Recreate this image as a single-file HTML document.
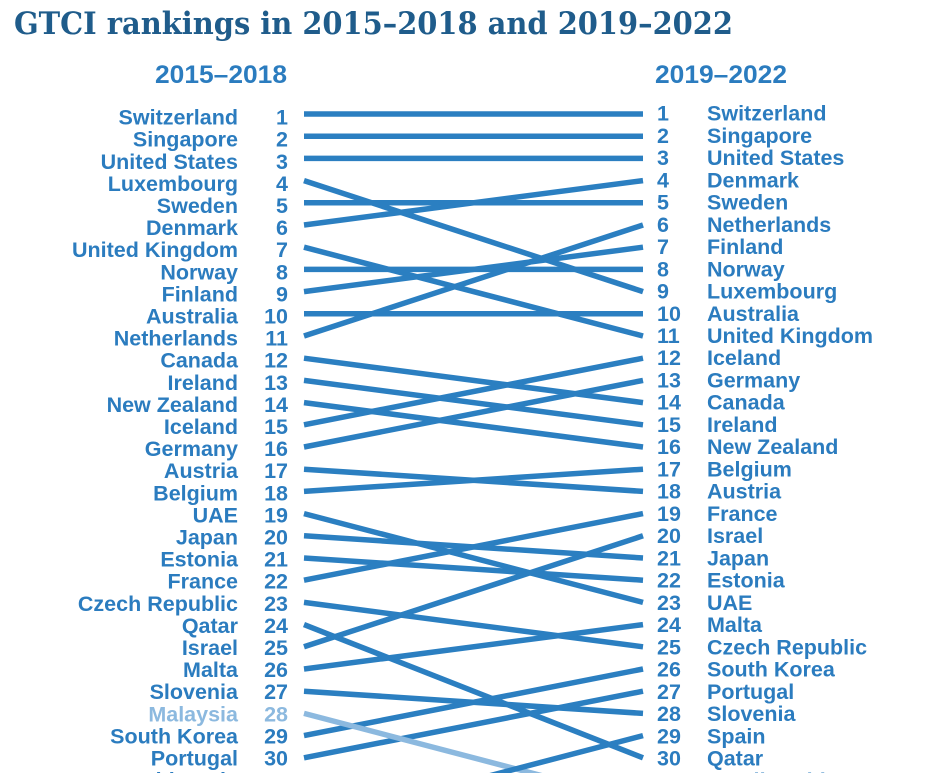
<!DOCTYPE html>
<html><head><meta charset="utf-8"><style>
html,body{margin:0;padding:0;background:#fff;width:933px;height:773px;overflow:hidden}
svg{display:block}
.t{font-family:"Liberation Sans",Arial,sans-serif;font-weight:bold;font-size:21.5px;fill:#2b7cbf}
.l{fill:#8cb9df}
.h{font-family:"Liberation Sans",Arial,sans-serif;font-weight:bold;font-size:25px;fill:#2b7cbf}
.ttl{font-family:"DejaVu Serif","Liberation Serif",serif;font-weight:bold;font-size:31px;fill:#1f5c8b}
</style></head><body>
<svg width="933" height="773" viewBox="0 0 933 773" xmlns="http://www.w3.org/2000/svg">
<text class="ttl" x="14" y="34" textLength="719" lengthAdjust="spacingAndGlyphs">GTCI rankings in 2015–2018 and 2019–2022</text>
<text class="h" x="287" y="83" text-anchor="end" textLength="132" lengthAdjust="spacingAndGlyphs">2015–2018</text>
<text class="h" x="655" y="83" textLength="132" lengthAdjust="spacingAndGlyphs">2019–2022</text>

<g stroke="#2b7fc1" stroke-width="5.5" fill="none">
<line x1="304" y1="114" x2="643" y2="114"/>
<line x1="304" y1="136.2" x2="643" y2="136.2"/>
<line x1="304" y1="158.4" x2="643" y2="158.4"/>
<line x1="304" y1="180.6" x2="643" y2="291.6"/>
<line x1="304" y1="202.8" x2="643" y2="202.8"/>
<line x1="304" y1="225" x2="643" y2="180.6"/>
<line x1="304" y1="247.2" x2="643" y2="336"/>
<line x1="304" y1="269.4" x2="643" y2="269.4"/>
<line x1="304" y1="291.6" x2="643" y2="247.2"/>
<line x1="304" y1="313.8" x2="643" y2="313.8"/>
<line x1="304" y1="336" x2="643" y2="225"/>
<line x1="304" y1="358.2" x2="643" y2="402.6"/>
<line x1="304" y1="380.4" x2="643" y2="424.8"/>
<line x1="304" y1="402.6" x2="643" y2="447"/>
<line x1="304" y1="424.8" x2="643" y2="358.2"/>
<line x1="304" y1="447" x2="643" y2="380.4"/>
<line x1="304" y1="469.2" x2="643" y2="491.4"/>
<line x1="304" y1="491.4" x2="643" y2="469.2"/>
<line x1="304" y1="513.6" x2="643" y2="602.4"/>
<line x1="304" y1="535.8" x2="643" y2="558"/>
<line x1="304" y1="558" x2="643" y2="580.2"/>
<line x1="304" y1="580.2" x2="643" y2="513.6"/>
<line x1="304" y1="602.4" x2="643" y2="646.8"/>
<line x1="304" y1="624.6" x2="643" y2="757.8"/>
<line x1="304" y1="646.8" x2="643" y2="535.8"/>
<line x1="304" y1="669" x2="643" y2="624.6"/>
<line x1="304" y1="691.2" x2="643" y2="713.4"/>
<line x1="304" y1="735.6" x2="643" y2="669"/>
<line x1="304" y1="757.8" x2="643" y2="691.2"/>
</g>
<line x1="304" y1="713.4" x2="643" y2="802.2" stroke="#8cb9df" stroke-width="5.5"/>
<line x1="304" y1="824.4" x2="643" y2="735.6" stroke="#2b7fc1" stroke-width="5.5"/>

<g class="t" text-anchor="end">
<text x="238" y="124.6">Switzerland</text><text x="288" y="124.6">1</text>
<text x="238" y="146.7">Singapore</text><text x="288" y="146.7">2</text>
<text x="238" y="168.8">United States</text><text x="288" y="168.8">3</text>
<text x="238" y="190.9">Luxembourg</text><text x="288" y="190.9">4</text>
<text x="238" y="213">Sweden</text><text x="288" y="213">5</text>
<text x="238" y="235.1">Denmark</text><text x="288" y="235.1">6</text>
<text x="238" y="257.2">United Kingdom</text><text x="288" y="257.2">7</text>
<text x="238" y="279.3">Norway</text><text x="288" y="279.3">8</text>
<text x="238" y="301.4">Finland</text><text x="288" y="301.4">9</text>
<text x="238" y="323.5">Australia</text><text x="288" y="323.5">10</text>
<text x="238" y="345.6">Netherlands</text><text x="288" y="345.6">11</text>
<text x="238" y="367.7">Canada</text><text x="288" y="367.7">12</text>
<text x="238" y="389.8">Ireland</text><text x="288" y="389.8">13</text>
<text x="238" y="411.9">New Zealand</text><text x="288" y="411.9">14</text>
<text x="238" y="434">Iceland</text><text x="288" y="434">15</text>
<text x="238" y="456.1">Germany</text><text x="288" y="456.1">16</text>
<text x="238" y="478.2">Austria</text><text x="288" y="478.2">17</text>
<text x="238" y="500.3">Belgium</text><text x="288" y="500.3">18</text>
<text x="238" y="522.4">UAE</text><text x="288" y="522.4">19</text>
<text x="238" y="544.5">Japan</text><text x="288" y="544.5">20</text>
<text x="238" y="566.6">Estonia</text><text x="288" y="566.6">21</text>
<text x="238" y="588.7">France</text><text x="288" y="588.7">22</text>
<text x="238" y="610.8">Czech Republic</text><text x="288" y="610.8">23</text>
<text x="238" y="632.9">Qatar</text><text x="288" y="632.9">24</text>
<text x="238" y="655">Israel</text><text x="288" y="655">25</text>
<text x="238" y="677.1">Malta</text><text x="288" y="677.1">26</text>
<text x="238" y="699.2">Slovenia</text><text x="288" y="699.2">27</text>
<text x="238" y="721.3" class="l">Malaysia</text><text x="288" y="721.3" class="l">28</text>
<text x="238" y="743.4">South Korea</text><text x="288" y="743.4">29</text>
<text x="238" y="765.5">Portugal</text><text x="288" y="765.5">30</text>
<text x="238" y="787.6">Lithuania</text><text x="288" y="787.6">31</text>
</g>

<g class="t">
<text x="657" y="120.6">1</text><text x="707" y="120.6">Switzerland</text>
<text x="657" y="142.84">2</text><text x="707" y="142.84">Singapore</text>
<text x="657" y="165.08">3</text><text x="707" y="165.08">United States</text>
<text x="657" y="187.32">4</text><text x="707" y="187.32">Denmark</text>
<text x="657" y="209.56">5</text><text x="707" y="209.56">Sweden</text>
<text x="657" y="231.8">6</text><text x="707" y="231.8">Netherlands</text>
<text x="657" y="254.04">7</text><text x="707" y="254.04">Finland</text>
<text x="657" y="276.28">8</text><text x="707" y="276.28">Norway</text>
<text x="657" y="298.52">9</text><text x="707" y="298.52">Luxembourg</text>
<text x="657" y="320.76">10</text><text x="707" y="320.76">Australia</text>
<text x="657" y="343">11</text><text x="707" y="343">United Kingdom</text>
<text x="657" y="365.24">12</text><text x="707" y="365.24">Iceland</text>
<text x="657" y="387.48">13</text><text x="707" y="387.48">Germany</text>
<text x="657" y="409.72">14</text><text x="707" y="409.72">Canada</text>
<text x="657" y="431.96">15</text><text x="707" y="431.96">Ireland</text>
<text x="657" y="454.2">16</text><text x="707" y="454.2">New Zealand</text>
<text x="657" y="476.44">17</text><text x="707" y="476.44">Belgium</text>
<text x="657" y="498.68">18</text><text x="707" y="498.68">Austria</text>
<text x="657" y="520.92">19</text><text x="707" y="520.92">France</text>
<text x="657" y="543.16">20</text><text x="707" y="543.16">Israel</text>
<text x="657" y="565.4">21</text><text x="707" y="565.4">Japan</text>
<text x="657" y="587.64">22</text><text x="707" y="587.64">Estonia</text>
<text x="657" y="609.88">23</text><text x="707" y="609.88">UAE</text>
<text x="657" y="632.12">24</text><text x="707" y="632.12">Malta</text>
<text x="657" y="654.36">25</text><text x="707" y="654.36">Czech Republic</text>
<text x="657" y="676.6">26</text><text x="707" y="676.6">South Korea</text>
<text x="657" y="698.84">27</text><text x="707" y="698.84">Portugal</text>
<text x="657" y="721.08">28</text><text x="707" y="721.08">Slovenia</text>
<text x="657" y="743.32">29</text><text x="707" y="743.32">Spain</text>
<text x="657" y="765.56">30</text><text x="707" y="765.56">Qatar</text>
<text x="657" y="787.8">31</text><text x="707" y="787.8">Saudi Arabia</text>
</g>
</svg>
</body></html>
